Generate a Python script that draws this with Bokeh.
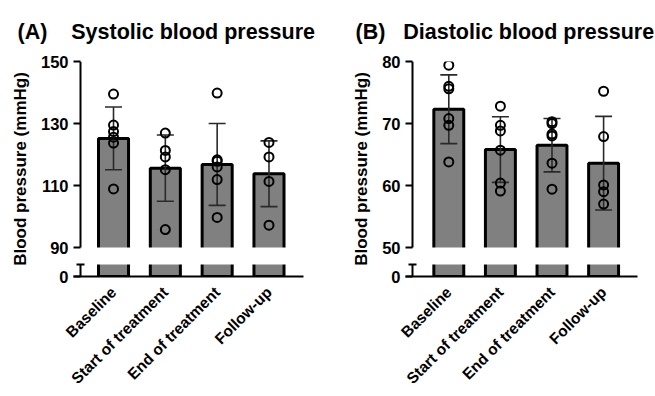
import math
from bokeh.plotting import figure
from bokeh.models import ColumnDataSource, Range1d, FixedTicker
from bokeh.layouts import row
from bokeh.embed import file_html
from bokeh.resources import INLINE

# ---------------- data ----------------
categories = ["Baseline", "Start of treatment", "End of treatment", "Follow-up"]

sys_mean = [125.2, 115.6, 116.8, 113.8]
sys_sd = [10.1, 10.7, 13.2, 10.6]
sys_points = [
    [139.5, 129.5, 127.4, 125.6, 123.7, 108.9],
    [126.9, 121.3, 119.2, 115.1, 95.8],
    [139.8, 118.3, 117.8, 116.0, 111.9, 99.7],
    [123.9, 119.2, 111.3, 97.2],
]
sys_ticks = [90, 110, 130, 150]

dia_mean = [72.3, 65.8, 66.5, 63.6]
dia_sd = [5.55, 5.3, 4.3, 7.55]
dia_points = [
    [79.4, 76.0, 75.6, 70.8, 69.7, 63.8],
    [72.8, 69.7, 68.8, 65.7, 60.4, 59.1],
    [70.3, 70.0, 68.3, 68.0, 63.6, 59.4],
    [75.2, 67.9, 60.1, 59.0, 57.0],
]
dia_ticks = [50, 60, 70, 80]

FONT = "Liberation Sans"
HEIGHT = 396
TOP_BORDER = 61
FRAME_H = 215
UPPER_H = 186   # px between top tick and break tick
LOWER_H = 12    # px between 0 and the top of the lower segment
AXIS_IN = 7     # px between frame edge and the drawn y-axis line
NBSP = "\u00a0"


def make_panel(letter, gap, title, means, sds, points, ticks, width,
               border_left, frame_w, x_start, x_end, title_dx):
    top = ticks[-1]
    brk = ticks[0]
    ppu = UPPER_H / (top - brk)
    ymin = top - FRAME_H / ppu
    cap = ymin + LOWER_H / ppu
    ppx = frame_w / (x_end - x_start)
    x_line = x_start + AXIS_IN / ppx

    p = figure(width=width, height=HEIGHT,
               x_range=Range1d(x_start, x_end), y_range=Range1d(ymin, top),
               output_backend="svg", toolbar_location=None,
               min_border_left=border_left,
               min_border_right=width - border_left - frame_w,
               min_border_top=TOP_BORDER,
               min_border_bottom=HEIGHT - TOP_BORDER - FRAME_H)
    p.outline_line_color = None
    p.xgrid.visible = False
    p.ygrid.visible = False
    p.background_fill_color = "white"

    # title
    p.title.text = letter + NBSP * gap + title
    p.title.align = "left"
    p.title.offset = title_dx
    p.title.standoff = 35
    p.title.text_font = FONT
    p.title.text_font_style = "bold"
    p.title.text_font_size = "21.5px"
    p.title.text_color = "black"

    xs = list(range(len(categories)))
    src = ColumnDataSource(dict(
        x=xs, mean=means,
        upper=[m + s for m, s in zip(means, sds)],
        lower=[m - s for m, s in zip(means, sds)],
    ))
    p.vbar(x="x", top="mean", bottom=0, width=0.58, source=src,
           fill_color="#808080", line_color="black", line_width=3)
    p.segment(x0="x", y0="lower", x1="x", y1="upper", source=src,
              line_color="#2a2a2a", line_width=1.6)
    p.scatter(x="x", y="upper", source=src, marker="dash", size=17,
              line_color="#2a2a2a", line_width=1.6)
    p.scatter(x="x", y="lower", source=src, marker="dash", size=17,
              line_color="#2a2a2a", line_width=1.6)

    px, py = [], []
    for i, vals in enumerate(points):
        px += [i] * len(vals)
        py += vals
    p.scatter(px, py, marker="circle", size=9, fill_color=None,
              line_color="black", line_width=2)

    # axis break: white gap across the plot, then the two pieces of axis line
    p.quad(left=x_start, right=x_end, bottom=cap, top=brk,
           fill_color="white", line_color=None)
    p.segment(x0=[x_line, x_line], y0=[brk, ymin], x1=[x_line, x_line],
              y1=[top, cap], line_color="black", line_width=2)
    p.segment(x0=[x_line - 4 / ppx], y0=[cap], x1=[x_line + 4 / ppx], y1=[cap],
              line_color="black", line_width=2)

    # y axis (ticks + labels only; the line is drawn above)
    ax = p.yaxis[0]
    ax.ticker = FixedTicker(ticks=list(ticks) + [ymin])
    ax.major_label_overrides = {ymin: "0"}
    ax.axis_line_color = None
    ax.axis_label = "Blood pressure (mmHg)"
    ax.axis_label_text_font = FONT
    ax.axis_label_text_font_style = "bold"
    ax.axis_label_text_font_size = "17px"
    ax.axis_label_text_color = "black"
    ax.axis_label_standoff = 8
    ax.major_label_text_font = FONT
    ax.major_label_text_font_style = "bold"
    ax.major_label_text_font_size = "16.5px"
    ax.major_label_text_color = "black"
    ax.major_label_standoff = 5
    ax.major_tick_line_width = 2
    ax.major_tick_line_color = "black"
    ax.major_tick_out = 0
    ax.major_tick_in = AXIS_IN
    ax.minor_tick_in = 0
    ax.minor_tick_out = 0

    # x axis with category labels
    xa = p.xaxis[0]
    xa.ticker = FixedTicker(ticks=xs)
    xa.major_label_overrides = {i: c for i, c in zip(xs, categories)}
    xa.major_label_orientation = math.pi / 4
    xa.major_label_text_font = FONT
    xa.major_label_text_font_style = "bold"
    xa.major_label_text_font_size = "15.5px"
    xa.major_label_text_color = "black"
    xa.major_label_standoff = 13
    xa.axis_line_width = 2
    xa.axis_line_color = "black"
    xa.major_tick_in = 0
    xa.major_tick_out = 0
    xa.minor_tick_in = 0
    xa.minor_tick_out = 0
    return p


pA = make_panel("(A)", 4, "Systolic blood pressure", sys_mean, sys_sd, sys_points,
                sys_ticks, 330, 73, 230, -0.772, 3.666, -56)
pB = make_panel("(B)", 3, "Diastolic blood pressure", dia_mean, dia_sd, dia_points,
                dia_ticks, 325, 75, 232, -0.839, 3.657, -50)

layout = row(pA, pB)
open("out.html", "w").write(file_html(layout, INLINE))
